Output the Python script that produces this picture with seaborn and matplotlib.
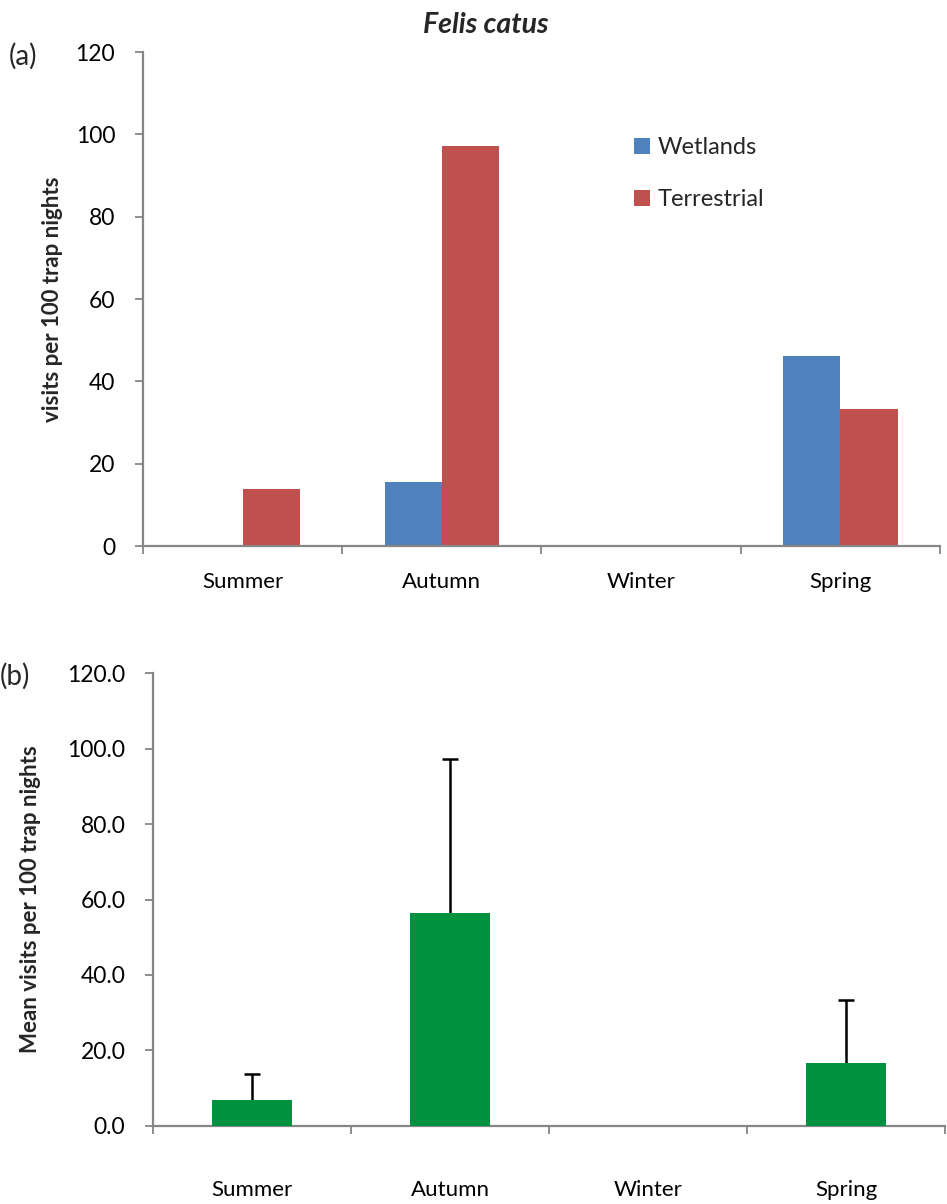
import matplotlib
matplotlib.use("Agg")
import matplotlib.pyplot as plt
import seaborn as sns
import pandas as pd
from matplotlib.patches import Patch

seasons = ["Summer", "Autumn", "Winter", "Spring"]
habitats = ["Wetlands", "Terrestrial"]
wetlands = [0.0, 15.5, 0.0, 46.2]
terrestrial = [13.8, 97.2, 0.0, 33.2]
mean_visits = [6.8, 56.3, 0.0, 16.6]
err_upper = [7.0, 41.0, 0.0, 16.7]
yticks_a = [0, 20, 40, 60, 80, 100, 120]
yticks_b = [0, 20, 40, 60, 80, 100, 120]

sns.set_theme(style="white")
plt.rcParams["font.family"] = ["Lato", "DejaVu Sans"]

BLUE = "#4F81BD"
RED = "#C0504D"
GREEN = "#00923F"
GRAY = "#868686"

fig = plt.figure(figsize=(9.47, 12.04), dpi=100)
ax1 = fig.add_axes([0.151, 0.5465, 0.8416, 0.4103])
ax2 = fig.add_axes([0.1616, 0.065, 0.8364, 0.3758])

df_a = pd.DataFrame({
    "season": seasons * 2,
    "habitat": [habitats[0]] * 4 + [habitats[1]] * 4,
    "value": wetlands + terrestrial,
})
sns.barplot(data=df_a, x="season", y="value", hue="habitat", order=seasons,
            hue_order=habitats, palette=[BLUE, RED], width=0.575,
            saturation=1, errorbar=None, ax=ax1, legend=False, linewidth=0)

df_b = pd.DataFrame({"season": seasons, "value": mean_visits})
sns.barplot(data=df_b, x="season", y="value", order=seasons, color=GREEN,
            width=0.405, saturation=1, errorbar=None, ax=ax2, linewidth=0,
            zorder=3)
xpos = list(range(len(seasons)))
tops = [m + e for m, e in zip(mean_visits, err_upper)]
ax2.errorbar(x=xpos, y=mean_visits, yerr=[[0] * len(seasons), err_upper],
             fmt="none", ecolor="black", elinewidth=1.8, capsize=0, zorder=2)
ax2.plot([p for p, e in zip(xpos, err_upper) if e > 0],
         [t for t, e in zip(tops, err_upper) if e > 0],
         ls="none", marker="_", markersize=12, markeredgewidth=1.8,
         color="black", zorder=2)

for ax, yt, fmt in [(ax1, yticks_a, "{:d}"), (ax2, yticks_b, "{:.1f}")]:
    ax.set_xlim(-0.5, 3.5)
    ax.set_ylim(0, 120)
    ax.set_yticks(yt)
    ax.set_yticklabels([fmt.format(v) for v in yt], fontsize=16.5, color="black")
    ax.set_xticks(range(len(seasons)))
    ax.set_xticklabels(seasons, fontsize=16, color="black")
    ax.set_xticks([-0.5, 0.5, 1.5, 2.5, 3.5], minor=True)
    ax.tick_params(axis="x", which="minor", length=6, width=1.3, color=GRAY, direction="out", bottom=True)
    ax.tick_params(axis="y", which="major", length=6, width=1.3, color=GRAY, direction="out", left=True, pad=14)
    for s in ["top", "right"]:
        ax.spines[s].set_visible(False)
    for s in ["left", "bottom"]:
        ax.spines[s].set_color(GRAY)
        ax.spines[s].set_linewidth(1.6)
    ax.set_xlabel("")
    ax.set_facecolor("white")

ax1.tick_params(axis="x", which="major", length=0, pad=19)
ax2.tick_params(axis="x", which="major", length=0, pad=39)

ax1.set_ylabel("visits per 100 trap nights", fontsize=16, fontweight="bold")
ax2.set_ylabel("Mean visits per 100 trap nights", fontsize=16, fontweight="bold")
ax1.yaxis.set_label_coords(-0.100, 0.5)
ax2.yaxis.set_label_coords(-0.142, 0.5)

handles = [Patch(facecolor=BLUE, edgecolor="none", label=habitats[0]),
           Patch(facecolor=RED, edgecolor="none", label=habitats[1])]
ax1.legend(handles=handles, loc="upper left", bbox_to_anchor=(0.59, 0.87),
           frameon=False, fontsize=17, labelspacing=1.3, handlelength=0.65,
           handleheight=0.65, handletextpad=0.35)

fig.text(0.513, 0.979, "Felis catus", fontsize=20.5, fontweight="bold",
         fontstyle="italic", ha="center", va="center")
fig.text(0.009, 0.953, "(a)", fontsize=20, ha="left", va="center")
fig.text(0.0, 0.4385, "(b)", fontsize=20, ha="left", va="center")

fig.savefig("out.png", dpi=100, facecolor="white")
